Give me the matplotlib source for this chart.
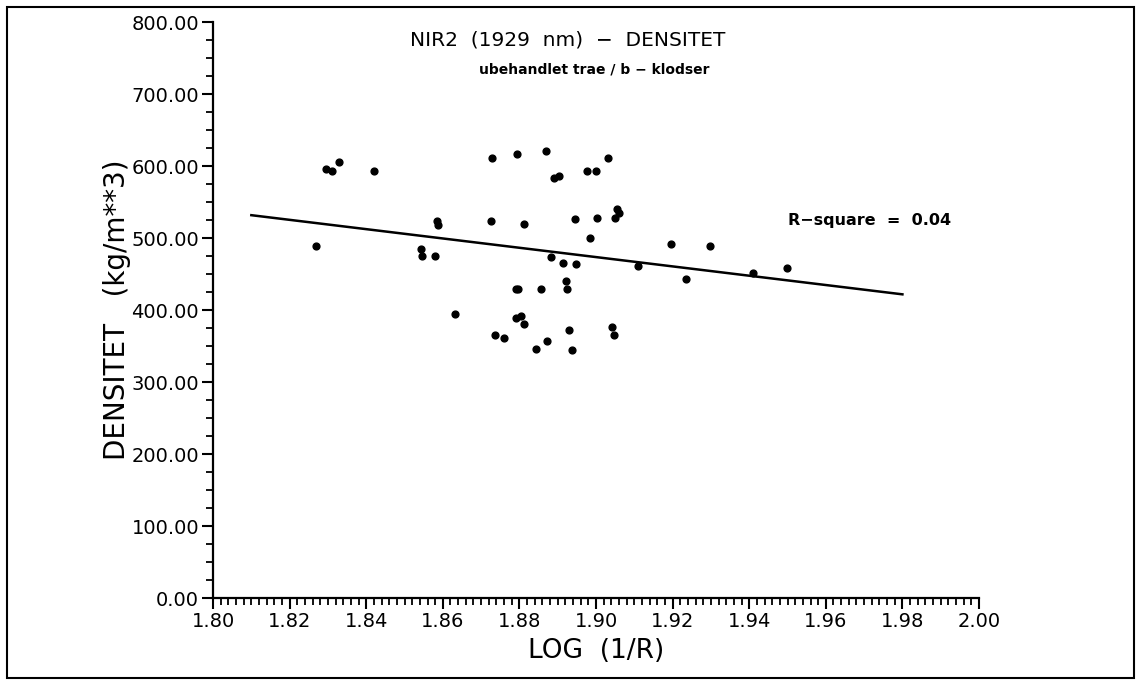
import matplotlib
matplotlib.use("Agg")
import matplotlib.pyplot as plt
from matplotlib.patches import Rectangle
from matplotlib.ticker import MultipleLocator, FormatStrFormatter

# LOG(1/R) og densitet [kg/m**3]
log_r = [1.8269, 1.8294, 1.8310, 1.8330, 1.8419, 1.8543, 1.8546, 1.8579, 1.8584, 1.8588,
         1.8632, 1.8727, 1.8729, 1.8737, 1.8761, 1.8793, 1.8791, 1.8797, 1.8790, 1.8805,
         1.8813, 1.8812, 1.8843, 1.8869, 1.8856, 1.8871, 1.8882, 1.8890, 1.8904, 1.8915,
         1.8922, 1.8924, 1.8929, 1.8938, 1.8946, 1.8948, 1.8977, 1.8983, 1.9000, 1.9002,
         1.9031, 1.9043, 1.9047, 1.9049, 1.9056, 1.9061, 1.9109, 1.9196, 1.9235, 1.9297,
         1.9409, 1.9498]
densitet = [489, 596, 593, 606, 594, 485, 475, 475, 524, 518,
            394, 524, 612, 366, 361, 617, 430, 430, 389, 392,
            381, 520, 346, 621, 430, 357, 474, 584, 586, 466,
            440, 429, 373, 344, 526, 464, 594, 500, 594, 528,
            612, 376, 366, 528, 540, 535, 462, 492, 443, 489,
            451, 459]

# regressionslinje (endepunkter)
fit_x = [1.81, 1.98]
fit_y = [532, 422]

plt.rcParams['font.family'] = ['DejaVu Sans']

fig = plt.figure(figsize=(11.38, 6.85), dpi=100)
ax = fig.add_axes([0.1872, 0.1270, 0.6731, 0.8404])

ax.scatter(log_r, densitet, s=24, color='black', zorder=3)
ax.plot(fit_x, fit_y, color='black', linewidth=1.8)

ax.set_xlim(1.80, 2.00)
ax.set_ylim(0, 800)
ax.xaxis.set_major_locator(MultipleLocator(0.02))
ax.xaxis.set_minor_locator(MultipleLocator(0.002))
ax.yaxis.set_major_locator(MultipleLocator(100))
ax.yaxis.set_minor_locator(MultipleLocator(25))
ax.xaxis.set_major_formatter(FormatStrFormatter('%.2f'))
ax.yaxis.set_major_formatter(FormatStrFormatter('%.2f'))

for s in ['top', 'right']:
    ax.spines[s].set_visible(False)
for s in ['left', 'bottom']:
    ax.spines[s].set_linewidth(1.6)

ax.tick_params(which='major', direction='out', length=8, width=1.5, labelsize=14, pad=2)
ax.tick_params(which='minor', direction='out', length=5, width=1.3)

ax.set_xlabel('LOG  (1/R)', fontsize=19, labelpad=5)
ax.set_ylabel('DENSITET   (kg/m**3)', fontsize=20, labelpad=0)

fig.text(0.499, 0.941, 'NIR2  (1929  nm)  \u2212  DENSITET', ha='center', va='center', fontsize=14.5)
fig.text(0.522, 0.898, 'ubehandlet trae / b \u2212 klodser', ha='center', va='center',
         fontsize=10, fontweight='bold')
ax.text(1.9500, 524, 'R\u2212square  =  0.04', fontsize=11.5, fontweight='bold', va='center')

# ramme rundt om figuren
fig.patches.append(Rectangle((7 / 1138, 7 / 685), 1127 / 1138, 671 / 685, transform=fig.transFigure,
                             fill=False, edgecolor='black', linewidth=1.5))

fig.savefig('out.png', dpi=100)
